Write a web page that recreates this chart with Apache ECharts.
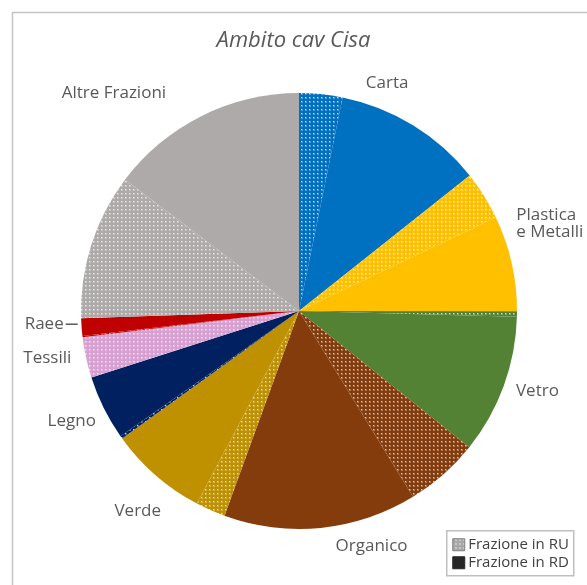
<!DOCTYPE html>
<html>
<head>
<meta charset="utf-8">
<script src="https://cdn.jsdelivr.net/npm/echarts@6/dist/echarts.min.js"></script>
<style>
  html, body { margin: 0; padding: 0; background: #ffffff; }
  #chart { width: 587px; height: 585px; }
</style>
</head>
<body>
<div id="chart"></div>
<script>
// Waste fractions of the "Ambito cav Cisa" area, percent of total.
const categories = ['Carta', 'Plastica\ne Metalli', 'Vetro', 'Organico', 'Verde', 'Legno', 'Tessili', 'Raee', 'Altre Frazioni'];
// share collected as residual waste (RU) and as separate collection (RD)
const ruShare = [3.2, 3.6, 0.4, 5.5, 2.2, 0.2, 3.0, 0.1, 10.8];
const rdShare = [11.1, 7.1, 10.3, 14.3, 7.3, 4.8, 0.0, 1.3, 14.7];
const legendLabels = ['Frazione in RU', 'Frazione in RD'];
const chartTitle = 'Ambito cav Cisa';

// ---- styling ----
const palette = ['#0070C0', '#FFC000', '#548235', '#843C0C', '#BF9000', '#002060', '#D8A0D2', '#C00000', '#AEAAAA'];
const TEXT = '#595959';
const FONT = 'Open Sans';
const CX = 299, CY = 311, R = 218;
const LABEL_GAP = 12;
// small layout tweaks for individual category labels [dx, dy]
const labelNudge = { 0: [-16, -12], 2: [0, -4], 3: [8, 5], 4: [-16, 8], 5: [-5, -2], 6: [-3, -7], 7: [-6, -6], 8: [-11, -49] };
const leaderLabels = { 7: true };

// dotted fill used for the RU part of each fraction
function dotted(base) {
  const c = document.createElement('canvas');
  c.width = 4; c.height = 4;
  const g = c.getContext('2d');
  g.fillStyle = base;
  g.fillRect(0, 0, 4, 4);
  g.fillStyle = 'rgba(255,255,255,0.75)';
  g.fillRect(1, 1, 1, 1);
  g.fillStyle = 'rgba(255,255,255,0.3)';
  g.fillRect(2, 1, 1, 1);
  g.fillRect(1, 2, 1, 1);
  g.fillRect(2, 2, 1, 1);
  return { image: c, repeat: 'repeat' };
}

const sliceData = [];
categories.forEach((cat, i) => {
  sliceData.push({ name: cat + ' RU', value: ruShare[i], itemStyle: { color: dotted(palette[i]) } });
  sliceData.push({ name: cat + ' RD', value: rdShare[i], itemStyle: { color: palette[i] } });
});

const totals = categories.map((c, i) => ruShare[i] + rdShare[i]);
const grand = totals.reduce((a, b) => a + b, 0);
const midAngles = [];
let acc = 0;
totals.forEach(t => { midAngles.push((acc + t / 2) / grand * 2 * Math.PI); acc += t; });

const labelData = categories.map((cat, i) => ({
  name: cat,
  value: totals[i],
  labelLine: { show: !!leaderLabels[i] }
}));

const chart = echarts.init(document.getElementById('chart'), null, { renderer: 'canvas' });

const legendText = { fontSize: 15, fontFamily: FONT, fill: '#404040', verticalAlign: 'middle' };

chart.setOption({
  animation: false,
  backgroundColor: '#ffffff',
  title: {
    text: chartTitle,
    left: 'center',
    top: 25,
    textStyle: { fontFamily: FONT, fontStyle: 'italic', fontWeight: 'normal', fontSize: 22, color: TEXT }
  },
  graphic: [
    {
      type: 'rect', silent: true, z: -1,
      shape: { x: 12.5, y: 12.5, width: 640, height: 640 },
      style: { fill: 'none', stroke: '#c4c4c4', lineWidth: 1.5 }
    },
    {
      type: 'group', left: 446, top: 530,
      children: [
        { type: 'rect', shape: { x: 0.5, y: 0.5, width: 127, height: 45 }, style: { fill: '#ffffff', stroke: '#bfbfbf', lineWidth: 1.5 } },
        { type: 'rect', shape: { x: 6.5, y: 8.5, width: 12, height: 12 }, style: { fill: dotted('#A6A6A6'), stroke: '#7f7f7f', lineWidth: 1 } },
        { type: 'text', style: Object.assign({ x: 22, y: 14.5, text: legendLabels[0] }, legendText) },
        { type: 'rect', shape: { x: 6.5, y: 26.5, width: 12, height: 12 }, style: { fill: '#262626', stroke: '#262626', lineWidth: 1 } },
        { type: 'text', style: Object.assign({ x: 22, y: 32.5, text: legendLabels[1] }, legendText) }
      ]
    }
  ],
  series: [
    {
      type: 'pie',
      center: [CX, CY],
      radius: [0, R],
      startAngle: 90,
      clockwise: true,
      silent: true,
      avoidLabelOverlap: false,
      label: { show: false },
      labelLine: { show: false },
      emphasis: { disabled: true },
      itemStyle: { borderWidth: 0 },
      data: sliceData
    },
    {
      type: 'pie',
      center: [CX, CY],
      radius: [0, R],
      startAngle: 90,
      clockwise: true,
      silent: true,
      avoidLabelOverlap: false,
      itemStyle: { color: 'rgba(0,0,0,0)', borderWidth: 0 },
      emphasis: { disabled: true },
      label: {
        show: true,
        position: 'outside',
        formatter: '{b}',
        fontFamily: FONT,
        fontSize: 17,
        lineHeight: 17,
        color: TEXT,
        align: 'left'
      },
      labelLine: { show: false, lineStyle: { color: TEXT, width: 1.5 } },
      labelLayout: function (p) {
        const i = p.dataIndex;
        const w = p.labelRect.width, h = p.labelRect.height;
        const phi = midAngles[i];
        const s = Math.sin(phi), c = Math.cos(phi);
        const ex = Math.abs(s) > 1e-6 ? (w / 2) / Math.abs(s) : Infinity;
        const ey = Math.abs(c) > 1e-6 ? (h / 2) / Math.abs(c) : Infinity;
        const d = R + LABEL_GAP + Math.min(ex, ey);
        const n = labelNudge[i] || [0, 0];
        const x = CX + d * s + n[0];
        const y = CY - d * c + n[1];
        // labels on the right half are left-aligned, the rest centred
        const out = s > 0.5
          ? { x: x - w / 2, y: y, align: 'left', verticalAlign: 'middle' }
          : { x: x, y: y, align: 'center', verticalAlign: 'middle' };
        if (leaderLabels[i]) {
          const x1 = x + w / 2 + 2;
          const x2 = x1 + 12;
          out.labelLinePoints = [[x2, y], [x1 + 6, y], [x1, y]];
        }
        return out;
      },
      data: labelData
    }
  ]
});
</script>
</body>
</html>
